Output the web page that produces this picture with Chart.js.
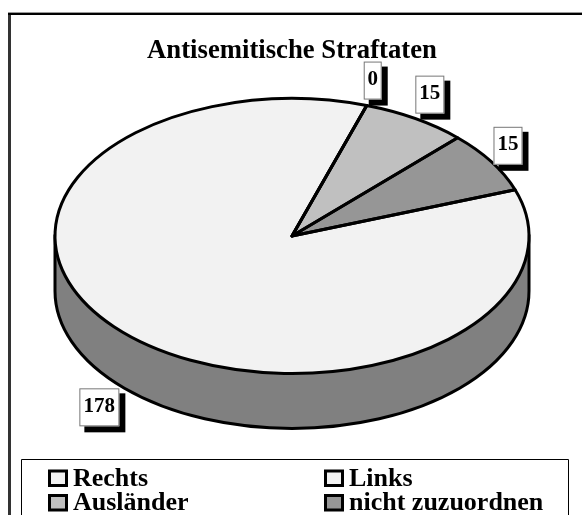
<!DOCTYPE html>
<html>
<head>
<meta charset="utf-8">
<style>
  html, body { margin: 0; padding: 0; background: #fff; overflow: hidden; }
  canvas { display: block; }
</style>
<script src="https://cdn.jsdelivr.net/npm/chart.js@4/dist/chart.umd.min.js"></script>
</head>
<body>
<canvas id="pie" width="582" height="515"></canvas>
<script>
const titleText = 'Antisemitische Straftaten';
const categories = ['Rechts', 'Links', 'Ausländer', 'nicht zuzuordnen'];
const values = [178, 0, 15, 15];
const sliceColors = ['#f2f2f2', '#f2f2f2', '#c0c0c0', '#969696'];

const SERIF = '"Liberation Serif", "Times New Roman", serif';
const SQUASH = 0.58;   // how flat the disc is drawn
const DEPTH = 55;      // height of the side wall
const WALL = '#808080';
const OUTLINE = 3;

// where each value box sits, relative to the edge of its slice
const labelBoxes = [
  { dx: -27, dy: 73, w: 40 },
  { dx: 6, dy: -25, w: 18 },
  { dx: 14.5, dy: -24, w: 29 },
  { dx: 16.5, dy: -16, w: 29 }
];

function edgePoint(arc, frac) {
  const a = arc.startAngle + (arc.endAngle - arc.startAngle) * frac;
  return {
    x: arc.x + Math.cos(a) * arc.outerRadius,
    y: arc.y + Math.sin(a) * arc.outerRadius * SQUASH
  };
}

const frame = {
  id: 'frame',
  beforeDraw(chart) {
    const c = chart.ctx;
    c.save();
    c.fillStyle = '#333';
    c.fillRect(8, 13, 3, 502);
    c.fillStyle = '#000';
    c.fillRect(8, 13, 574, 2);
    c.fillStyle = '#999';
    c.fillRect(8, 12, 574, 1);
    c.restore();
  }
};

// squashes the circle into a disc and puts the side wall under it
const disc = {
  id: 'disc',
  beforeDatasetsDraw(chart) {
    const arc = chart.getDatasetMeta(0).data[0];
    const c = chart.ctx;
    const rx = arc.outerRadius, ry = rx * SQUASH;
    c.save();
    c.beginPath();
    c.moveTo(arc.x - rx, arc.y);
    c.lineTo(arc.x - rx, arc.y + DEPTH);
    c.ellipse(arc.x, arc.y + DEPTH, rx, ry, 0, Math.PI, 0, true);
    c.lineTo(arc.x + rx, arc.y);
    c.closePath();
    c.fillStyle = WALL;
    c.fill();
    c.lineWidth = OUTLINE;
    c.strokeStyle = '#000';
    c.stroke();
    c.restore();

    c.save();
    c.translate(arc.x, arc.y);
    c.scale(1, SQUASH);
    c.translate(-arc.x, -arc.y);
  },
  afterDatasetsDraw(chart) {
    const c = chart.ctx;
    c.restore();
    // outlines are stroked without the squash so they keep an even width
    const arcs = chart.getDatasetMeta(0).data;
    c.save();
    c.lineWidth = OUTLINE;
    c.strokeStyle = '#000';
    c.lineJoin = 'round';
    arcs.forEach(arc => {
      const ry = arc.outerRadius * SQUASH;
      c.beginPath();
      c.moveTo(arc.x, arc.y);
      c.ellipse(arc.x, arc.y, arc.outerRadius, ry, 0, arc.startAngle, arc.endAngle);
      c.closePath();
      c.stroke();
    });
    c.restore();
  }
};

const valueBoxes = {
  id: 'valueBoxes',
  afterDraw(chart) {
    const c = chart.ctx;
    const arcs = chart.getDatasetMeta(0).data;
    c.save();
    c.font = 'bold 21px ' + SERIF;
    c.textAlign = 'center';
    c.textBaseline = 'middle';
    arcs.forEach((arc, i) => {
      const p = edgePoint(arc, 0.5);
      const b = labelBoxes[i];
      const h = 38;
      const x = p.x + b.dx - b.w / 2;
      const y = p.y + b.dy - h / 2;
      c.fillStyle = '#000';
      c.fillRect(x + 5, y + 5, b.w + 1, h + 1);
      c.fillStyle = '#fff';
      c.fillRect(x, y, b.w, h);
      c.strokeStyle = '#777';
      c.lineWidth = 1;
      c.strokeRect(x + 0.5, y + 0.5, b.w - 1, h - 1);
      c.fillStyle = '#000';
      c.fillText(String(values[i]), x + b.w / 2, y + h / 2 - 1);
    });
    c.restore();
  }
};

// two column legend, the built in one cannot line up its columns
const legendBox = {
  id: 'legendBox',
  afterDraw(chart) {
    const c = chart.ctx;
    const cols = [49.5, 325.5], rows = [471, 495.5];
    c.save();
    c.strokeStyle = '#000';
    c.lineWidth = 1;
    c.beginPath();
    c.moveTo(21.5, 515);
    c.lineTo(21.5, 459.5);
    c.lineTo(568.5, 459.5);
    c.lineTo(568.5, 515);
    c.stroke();
    c.font = 'bold 26px ' + SERIF;
    c.textAlign = 'left';
    c.textBaseline = 'alphabetic';
    categories.forEach((name, i) => {
      const x = cols[i % 2], y = rows[Math.floor(i / 2)];
      c.fillStyle = sliceColors[i];
      c.fillRect(x, y, 17, 14.5);
      c.lineWidth = 3;
      c.strokeRect(x, y, 17, 14.5);
      c.fillStyle = '#000';
      c.fillText(name, x + 23.5, y + 14.5);
    });
    c.restore();
  }
};

new Chart(document.getElementById('pie'), {
  type: 'pie',
  data: {
    labels: categories,
    datasets: [{
      data: values,
      backgroundColor: sliceColors,
      borderWidth: 0,
      radius: 237
    }]
  },
  plugins: [frame, disc, valueBoxes, legendBox],
  options: {
    responsive: false,
    animation: false,
    rotation: 70.3,
    layout: { padding: { left: 55, right: 53, top: 0, bottom: 110 } },
    plugins: {
      legend: { display: false },
      tooltip: { enabled: false },
      title: {
        display: true,
        text: titleText,
        color: '#000',
        font: { family: SERIF, size: 26.7, weight: 'bold' },
        padding: { top: 35, bottom: 0 }
      }
    }
  }
});
</script>
</body>
</html>
